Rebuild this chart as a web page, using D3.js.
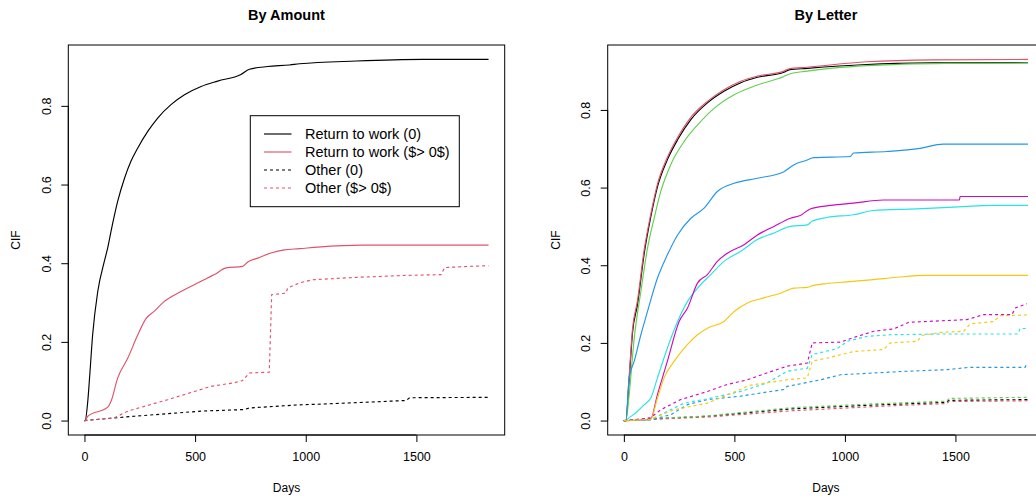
<!DOCTYPE html>
<html><head><meta charset="utf-8">
<script src="https://cdn.jsdelivr.net/npm/d3@7"></script>
<style>body{margin:0;background:#fff}svg{display:block}text{font-family:"Liberation Sans",Arial,Helvetica,sans-serif;fill:#000}</style>
</head><body><svg id="c" width="1036" height="499"></svg>
<script>
// ---------- DATA ----------
const xTicks = [0, 500, 1000, 1500];
const yTicks = [0, 0.2, 0.4, 0.6, 0.8];
const titles = ["By Amount", "By Letter"];
const xLabel = "Days", yLabel = "CIF";
const legendLabels = ["Return to work (0)", "Return to work ($> 0$)", "Other (0)", "Other ($> 0$)"];
const letterColors = ["#000000", "#DF536B", "#61D04F", "#2297E6", "#28E2E5", "#CD0BBC", "#F5C710"];

// Left panel: by amount
const rtw0Days = [0,3,15,23,37,60,90,105,120,150,181,210,241,286,331,391,452,527,602,707,745,828,927,972,1228,1529,1826];
const rtw0Cif  = [0,0,0.049,0.108,0.218,0.328,0.405,0.439,0.481,0.557,0.616,0.659,0.693,0.735,0.769,0.803,0.828,0.849,0.863,0.880,0.893,0.900,0.904,0.907,0.914,0.918,0.918];
const rtwPosDays = [0,3,15,105,120,150,196,241,278,316,361,436,527,587,640,715,738,783,843,903,972,1055,1258,1826];
const rtwPosCif  = [0,0,0.011,0.034,0.049,0.108,0.159,0.218,0.259,0.278,0.303,0.328,0.354,0.371,0.388,0.392,0.403,0.413,0.426,0.434,0.437,0.441,0.446,0.446];
const oth0Days = [0,226,527,722,745,972,1078,1454,1469,1826];
const oth0Cif  = [0,0.011,0.024,0.028,0.032,0.040,0.042,0.051,0.058,0.059];
const othPosDays = [0,135,196,301,376,497,572,677,715,745,835,846,911,918,972,1032,1228,1454,1612,1627,1826];
const othPosCif  = [0,0.007,0.024,0.041,0.053,0.074,0.087,0.096,0.102,0.121,0.123,0.320,0.324,0.337,0.350,0.358,0.364,0.369,0.371,0.389,0.394];

// Right panel: by letter (return to work, solid)
const rtwDaysA = [0,9,24,39,62,92,122,152,197,243,303,378,453,529,604,724,747,830,1099,1400,1828];
const rtwCif1 = [0,0,0.105,0.225,0.300,0.430,0.525,0.602,0.672,0.723,0.775,0.818,0.848,0.870,0.884,0.897,0.903,0.907,0.917,0.921,0.922];
const rtwCif2 = [0,0,0.115,0.235,0.310,0.440,0.532,0.609,0.678,0.729,0.781,0.822,0.852,0.874,0.887,0.900,0.906,0.910,0.924,0.929,0.930];
const rtwDays3 = [0,9,24,47,77,107,137,167,212,273,333,408,499,604,724,747,830,1099,1461,1828];
const rtwCif3  = [0,0,0.067,0.213,0.333,0.444,0.521,0.590,0.659,0.719,0.761,0.804,0.839,0.864,0.886,0.892,0.900,0.914,0.920,0.921];
const rtwDays4 = [0,9,24,47,77,107,152,197,243,303,363,423,499,604,724,770,830,858,1024,1039,1190,1340,1445,1828];
const rtwCif4  = [0,0,0.110,0.153,0.221,0.281,0.367,0.427,0.478,0.521,0.547,0.590,0.611,0.624,0.641,0.659,0.671,0.677,0.680,0.689,0.693,0.701,0.712,0.712];
const rtwDays5 = [0,9,15,62,92,122,152,197,243,288,333,393,453,529,604,679,754,830,851,919,1039,1129,1325,1468,1679,1828];
const rtwCif5  = [0,0,0.003,0.024,0.041,0.058,0.110,0.187,0.255,0.307,0.341,0.376,0.410,0.436,0.466,0.483,0.500,0.504,0.513,0.523,0.530,0.541,0.545,0.549,0.554,0.554];
const rtwDays6 = [0,9,120,152,197,250,288,333,378,423,468,544,604,679,754,798,843,934,1039,1174,1518,1521,1828];
const rtwCif6  = [0,0,0.002,0.067,0.153,0.255,0.290,0.354,0.376,0.410,0.431,0.453,0.478,0.500,0.521,0.528,0.545,0.554,0.560,0.568,0.568,0.577,0.577];
const rtwDays7 = [0,9,120,152,182,228,288,333,378,453,499,559,634,709,770,830,858,919,1009,1129,1235,1363,1828];
const rtwCif7  = [0,0,0.002,0.058,0.110,0.153,0.196,0.221,0.238,0.255,0.281,0.303,0.316,0.328,0.341,0.343,0.348,0.353,0.357,0.363,0.369,0.374,0.374];

// Right panel: by letter (other, dashed)
const othDaysA = [0,122,378,754,1131,1462,1470,1828];
const othCif1 = [0,0.004,0.011,0.030,0.040,0.047,0.052,0.054];
const othCif2 = [0,0.003,0.009,0.025,0.036,0.044,0.049,0.051];
const othCif3 = [0,0.005,0.012,0.033,0.043,0.050,0.057,0.060];
const othDays4 = [0,9,120,212,288,378,529,724,739,890,980,1281,1462,1560,1815,1823];
const othCif4  = [0,0,0.002,0.015,0.041,0.054,0.063,0.080,0.088,0.105,0.118,0.127,0.131,0.137,0.137,0.147];
const othDays5 = [0,9,120,273,378,529,649,739,830,852,965,1010,1101,1206,1445,1784,1792,1828];
const othCif5  = [0,0,0.002,0.045,0.056,0.075,0.097,0.127,0.135,0.170,0.185,0.204,0.217,0.221,0.223,0.223,0.237,0.237];
const othDays6 = [0,9,120,167,257,378,468,559,649,739,830,852,980,1056,1131,1221,1289,1552,1628,1756,1771,1823];
const othCif6  = [0,0,0.007,0.028,0.054,0.075,0.093,0.105,0.123,0.140,0.148,0.200,0.202,0.217,0.230,0.236,0.253,0.260,0.273,0.273,0.290,0.301];
const othDays7 = [0,9,120,228,378,544,559,739,830,852,920,1041,1176,1206,1327,1349,1432,1537,1567,1673,1703,1823];
const othCif7  = [0,0,0.003,0.028,0.045,0.084,0.090,0.105,0.110,0.153,0.161,0.178,0.183,0.200,0.204,0.219,0.227,0.230,0.249,0.255,0.270,0.272];

// ---------- BUILD ----------
const zip = (a, b) => a.map((d, i) => [d, b[i]]);
const leftSeries = [
  {pts: zip(rtw0Days, rtw0Cif), color: letterColors[0], dash: false},
  {pts: zip(rtwPosDays, rtwPosCif), color: letterColors[1], dash: false},
  {pts: zip(oth0Days, oth0Cif), color: letterColors[0], dash: true},
  {pts: zip(othPosDays, othPosCif), color: letterColors[1], dash: true}
];
const rightSeries = [
  {pts: zip(rtwDaysA, rtwCif1), color: letterColors[0], dash: false},
  {pts: zip(rtwDaysA, rtwCif2), color: letterColors[1], dash: false},
  {pts: zip(rtwDays3, rtwCif3), color: letterColors[2], dash: false},
  {pts: zip(rtwDays4, rtwCif4), color: letterColors[3], dash: false},
  {pts: zip(rtwDays5, rtwCif5), color: letterColors[4], dash: false},
  {pts: zip(rtwDays6, rtwCif6), color: letterColors[5], dash: false},
  {pts: zip(rtwDays7, rtwCif7), color: letterColors[6], dash: false},
  {pts: zip(othDaysA, othCif1), color: letterColors[0], dash: true},
  {pts: zip(othDaysA, othCif2), color: letterColors[1], dash: true},
  {pts: zip(othDaysA, othCif3), color: letterColors[2], dash: true},
  {pts: zip(othDays4, othCif4), color: letterColors[3], dash: true},
  {pts: zip(othDays5, othCif5), color: letterColors[4], dash: true},
  {pts: zip(othDays6, othCif6), color: letterColors[5], dash: true},
  {pts: zip(othDays7, othCif7), color: letterColors[6], dash: true}
];

const svg = d3.select("#c");
const H = {top: 45, bottom: 435};
const PW = 436.4;

function panel(x0, series, title, legend) {
  const all = series.flatMap(s => s.pts);
  const xmax = d3.max(all, d => d[0]), ymax = d3.max(all, d => d[1]);
  const x = d3.scaleLinear().domain([-0.04 * xmax, 1.04 * xmax]).range([x0, x0 + PW]);
  const y = d3.scaleLinear().domain([-0.04 * ymax, 1.04 * ymax]).range([H.bottom, H.top]);
  const g = svg.append("g");
  const smooth = d3.line().x(d => x(d[0])).y(d => y(d[1])).curve(d3.curveMonotoneX);
  const straight = d3.line().x(d => x(d[0])).y(d => y(d[1]));
  series.forEach(s => {
    g.append("path").attr("d", (s.dash ? straight : smooth)(s.pts)).attr("fill", "none")
      .attr("stroke", s.color).attr("stroke-width", 1.15)
      .attr("stroke-dasharray", s.dash ? "3,3" : null);
  });
  g.append("rect").attr("x", x0).attr("y", H.top).attr("width", PW).attr("height", H.bottom - H.top)
    .attr("fill", "none").attr("stroke", "#000").attr("stroke-width", 1);
  // x axis
  const xa = g.append("g").attr("transform", `translate(0,${H.bottom})`)
    .call(d3.axisBottom(x).tickValues(xTicks).tickSize(7).tickPadding(10).tickFormat(d3.format("d")));
  xa.select(".domain").attr("d", `M${x(xTicks[0])},0H${x(xTicks[xTicks.length-1])}`);
  xa.selectAll("text").attr("font-size", 12.5).attr("font-family", null);
  // y axis
  const ya = g.append("g").attr("transform", `translate(${x0},0)`)
    .call(d3.axisLeft(y).tickValues(yTicks).tickSize(7).tickFormat(d3.format(".1f")));
  ya.select(".domain").attr("d", `M0,${y(yTicks[0])}V${y(yTicks[yTicks.length-1])}`);
  ya.selectAll(".tick text").attr("font-size", 12.5).attr("font-family", null)
    .attr("x", null).attr("dy", null)
    .attr("transform", "translate(-21,0) rotate(-90)").attr("text-anchor", "middle").attr("dominant-baseline", "middle");
  g.append("text").attr("x", x0 + PW / 2).attr("y", 20).attr("text-anchor", "middle")
    .attr("font-weight", "bold").attr("font-size", 14.5).text(title);
  g.append("text").attr("x", x0 + PW / 2).attr("y", 492).attr("text-anchor", "middle")
    .attr("font-size", 12).text(xLabel);
  g.append("text").attr("transform", `translate(${x0 - 48},${(H.top + H.bottom) / 2}) rotate(-90)`)
    .attr("text-anchor", "middle").attr("font-size", 12).text(yLabel);
  if (legend) {
    const lg = g.append("g");
    lg.append("rect").attr("x", 250.3).attr("y", 115.7).attr("width", 209).attr("height", 91)
      .attr("fill", "#fff").attr("stroke", "#000");
    legendLabels.forEach((t, i) => {
      const s = series[i], yy = 134 + i * 18;
      lg.append("line").attr("x1", 264).attr("x2", 291.5).attr("y1", yy).attr("y2", yy)
        .attr("stroke", s.color).attr("stroke-width", 1.15).attr("stroke-dasharray", s.dash ? "3,3" : null);
      lg.append("text").attr("x", 305).attr("y", yy).attr("dy", "0.35em").attr("font-size", 14.5).text(t);
    });
  }
}
panel(68.3, leftSeries, titles[0], true);
panel(607.7, rightSeries, titles[1], false);
</script></body></html>
